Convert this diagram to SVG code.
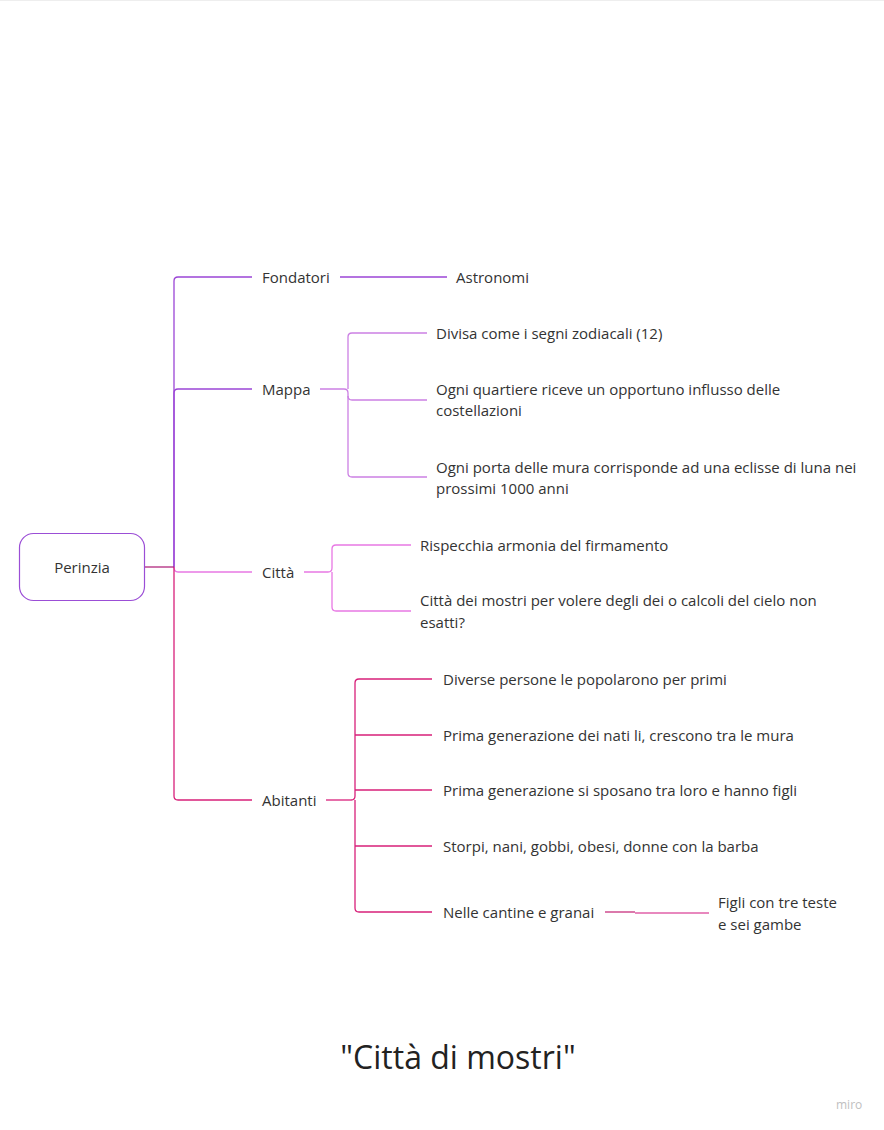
<svg xmlns="http://www.w3.org/2000/svg" width="884" height="1130" viewBox="0 0 884 1130">
<style>
text{font-family:"Open Sans","Noto Sans","Liberation Sans",sans-serif;font-size:15px;fill:#333}
.c{fill:none;stroke-width:1.3}
.p{stroke:#9b45d6}
.lp{stroke:#cc80e4}
.pk{stroke:#e878e4}
.mg{stroke:#d8207a}
</style>
<rect x="0" y="0" width="884" height="1130" fill="#fff"/>
<line x1="0" y1="0.5" x2="884" y2="0.5" stroke="#eeeeee"/>
<g id="connectors">
<path class="c p" d="M174 567 V281 Q174 277 178 277 H252"/>
<path class="c p" d="M174 567 V393 Q174 389 178 389 H252"/>
<path class="c pk" d="M174 567 Q174 572 178 572 H252"/>
<path class="c mg" d="M174 567 V796 Q174 800 178 800 H252"/>
<path class="c" stroke="#b0287e" stroke-width="1.3" d="M145 567 H174"/>
<path class="c p" d="M340 277 H447"/>
<path class="c lp" d="M320 389 H344 Q348 389 348 393 V473 Q348 477 352 477 H427"/>
<path class="c lp" d="M348 389 V337 Q348 333 352 333 H427"/>
<path class="c lp" d="M348 396 Q348 400 352 400 H427"/>
<path class="c pk" d="M304 572 H328 Q332 572 332 568 V549 Q332 545 336 545 H411"/>
<path class="c pk" d="M332 572 V607 Q332 611 336 611 H411"/>
<path class="c mg" stroke-width="1.8" d="M326 800 H351"/>
<path class="c mg" d="M351 800 Q355 800 355 796 V683 Q355 679 359 679 H432"/>
<path class="c mg" d="M355 800 V908 Q355 912 359 912 H432"/>
<path class="c mg" d="M355 735 H432 M355 790 H432 M355 846 H432"/>
<path class="c" stroke="#c8307e" stroke-width="1.3" d="M605 912 H635"/>
<path class="c" stroke="#e060a8" stroke-width="1.3" d="M635 913 H709"/>
</g>
<g id="perinzia">
<rect x="19.5" y="533.5" width="125" height="67" rx="14" fill="#fff" stroke="#9b4ed6" stroke-width="1.2"/>
<text x="82" y="573" text-anchor="middle">Perinzia</text>
</g>
<g id="fondatori"><text x="262" y="283">Fondatori</text></g>
<g id="astronomi"><text x="456" y="283">Astronomi</text></g>
<g id="mappa"><text x="262" y="395">Mappa</text></g>
<g id="divisa"><text x="436" y="339">Divisa come i segni zodiacali (12)</text></g>
<g id="quartiere"><text x="436" y="395">Ogni quartiere riceve un opportuno influsso delle</text><text x="436" y="416">costellazioni</text></g>
<g id="porta"><text x="436" y="473">Ogni porta delle mura corrisponde ad una eclisse di luna nei</text><text x="436" y="494">prossimi 1000 anni</text></g>
<g id="citta"><text x="262" y="578">Città</text></g>
<g id="rispecchia"><text x="420" y="551">Rispecchia armonia del firmamento</text></g>
<g id="mostri"><text x="420" y="606">Città dei mostri per volere degli dei o calcoli del cielo non</text><text x="420" y="628">esatti?</text></g>
<g id="abitanti"><text x="262" y="806">Abitanti</text></g>
<g id="diverse"><text x="443" y="685">Diverse persone le popolarono per primi</text></g>
<g id="prima1"><text x="443" y="741">Prima generazione dei nati li, crescono tra le mura</text></g>
<g id="prima2"><text x="443" y="796">Prima generazione si sposano tra loro e hanno figli</text></g>
<g id="storpi"><text x="443" y="852">Storpi, nani, gobbi, obesi, donne con la barba</text></g>
<g id="cantine"><text x="443" y="918">Nelle cantine e granai</text></g>
<g id="figli"><text x="718" y="908">Figli con tre teste</text><text x="718" y="930">e sei gambe</text></g>
<g id="title"><text x="458" y="1069" text-anchor="middle" style="font-size:32px;fill:#222">"Città di mostri"</text></g>
<g id="miro"><text x="836" y="1109" style="font-size:12px;fill:#c0c0c0">miro</text></g>
</svg>
